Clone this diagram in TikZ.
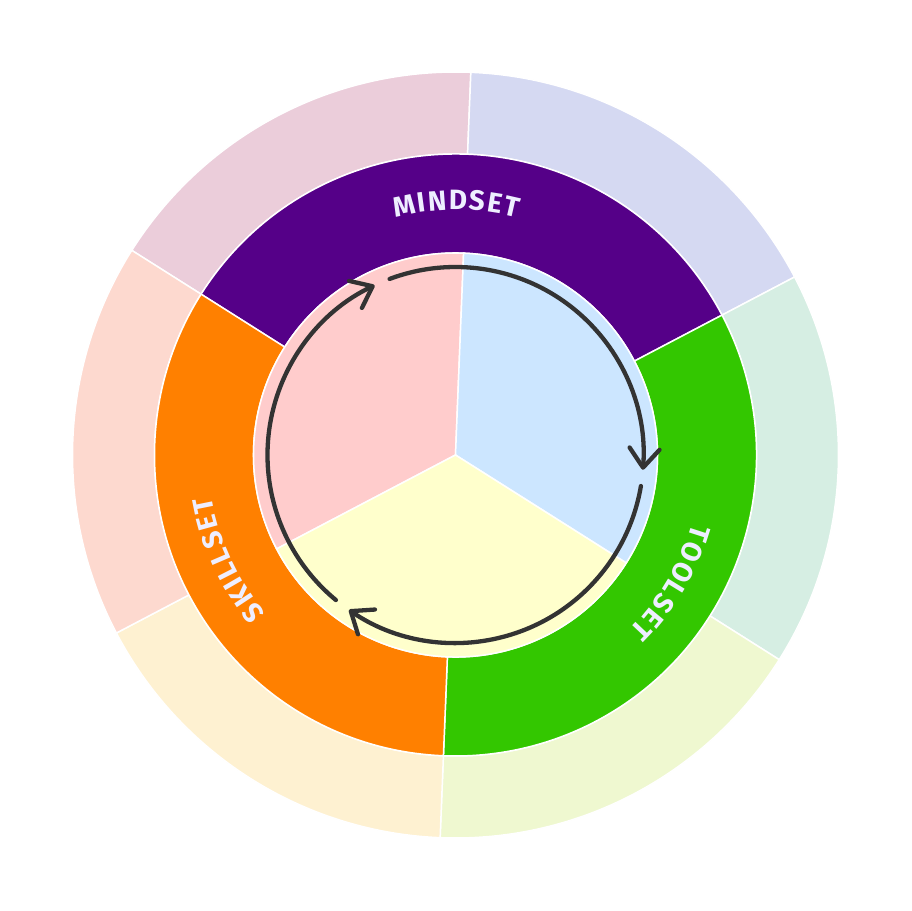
\documentclass[tikz,border=0pt]{standalone}
\usepackage{fontspec}
\setmainfont{Fira Sans}
\newfontfamily\firafam{Fira Sans}
\usetikzlibrary{arrows.meta}
\definecolor{cPurple}{HTML}{550088}
\definecolor{cGreen}{HTML}{33C700}
\definecolor{cOrange}{HTML}{FF8000}
\definecolor{oMauve}{HTML}{EBCDDA}
\definecolor{oLav}{HTML}{D5D9F2}
\definecolor{oMint}{HTML}{D6EEE3}
\definecolor{oLime}{HTML}{EFF8D0}
\definecolor{oCream}{HTML}{FEF1D1}
\definecolor{oPeach}{HTML}{FDD9CF}
\definecolor{iPink}{HTML}{FFCCCC}
\definecolor{iBlue}{HTML}{CCE6FF}
\definecolor{iYellow}{HTML}{FFFFCC}
\definecolor{labelcol}{HTML}{EEEEFF}
\definecolor{arrowcol}{HTML}{333333}
\newcommand\lblfnt{\firafam\bfseries\fontsize{28pt}{32pt}\selectfont}
\newcommand\ringsector[5]{%
  \fill[#5, draw=white, line width=1.5pt] (#1:#3) arc[start angle=#1, end angle=#2, radius=#3]
    -- (#2:#4) arc[start angle=#2, end angle=#1, radius=#4] -- cycle;}
\newcommand\piesector[4]{%
  \fill[#4, draw=white, line width=1.5pt] (0,0) -- (#1:#3) arc[start angle=#1, end angle=#2, radius=#3] -- cycle;}
\newcommand\measurech[1]{%
  \pgfinterruptpicture
    \setbox0=\hbox{\lblfnt #1}%
    \xdef\curw{\the\wd0}%
  \endpgfinterruptpicture}
\newcommand\arclabel[4]{% center angle, radius, tracking, letters
  \gdef\totw{0pt}%
  \foreach \ch in {#4}{%
    \measurech{\ch}%
    \xdef\totw{\the\dimexpr\totw+\curw+#3pt\relax}}%
  \xdef\totw{\the\dimexpr\totw-#3pt\relax}%
  \gdef\cumw{0pt}%
  \foreach \ch in {#4}{%
    \measurech{\ch}%
    \pgfmathsetmacro\ang{#1+(0.5*\totw-\cumw-0.5*\curw)/#2*57.29578}%
    \node[lbl, rotate=\ang-90] at (\ang:#2) {\ch};
    \xdef\cumw{\the\dimexpr\cumw+\curw+#3pt\relax}}%
}
\tikzset{
  lbl/.style={inner sep=0pt, text=labelcol, font=\lblfnt, anchor=center, text height=19.5pt, text depth=0pt},
  cyclearrow/.style={draw=arrowcol, line width=4.3pt, line cap=round,
    -{Straight Barb[length=19pt, width=30pt, line width=4.3pt, round]}}
}
\begin{document}
\begin{tikzpicture}[x=1pt, y=1pt]
\useasboundingbox[fill=white] (-455.5,-456) rectangle (455.5,455);
% outer ring
\ringsector{87.7}{147.7}{301}{383}{oMauve}
\ringsector{27.7}{87.7}{301}{383}{oLav}
\ringsector{-32.3}{27.7}{301}{383}{oMint}
\ringsector{-92.3}{-32.3}{301}{383}{oLime}
\ringsector{-152.3}{-92.3}{301}{383}{oCream}
\ringsector{147.7}{207.7}{301}{383}{oPeach}
% middle ring
\ringsector{27.7}{147.7}{202}{301}{cPurple}
\ringsector{-92.3}{27.7}{202}{301}{cGreen}
\ringsector{147.7}{267.7}{202}{301}{cOrange}
% inner pie
\piesector{87.7}{207.7}{202}{iPink}
\piesector{-32.3}{87.7}{202}{iBlue}
\piesector{207.7}{327.7}{202}{iYellow}
% cycle arrows
\draw[cyclearrow] (110.5:188) arc[start angle=110.5, end angle=-4.5, radius=188];
\draw[cyclearrow] (-9.5:188) arc[start angle=-9.5, end angle=-124.5, radius=188];
\draw[cyclearrow] (-129.5:188) arc[start angle=-129.5, end angle=-244.5, radius=188];
% labels
\arclabel{89.75}{255}{2.5}{M,I,N,D,S,E,T}
\arclabel{-30.7}{256}{2.5}{T,O,O,L,S,E,T}
\arclabel{204.7}{257}{2.5}{S,K,I,L,L,S,E,T}
\end{tikzpicture}
\end{document}
